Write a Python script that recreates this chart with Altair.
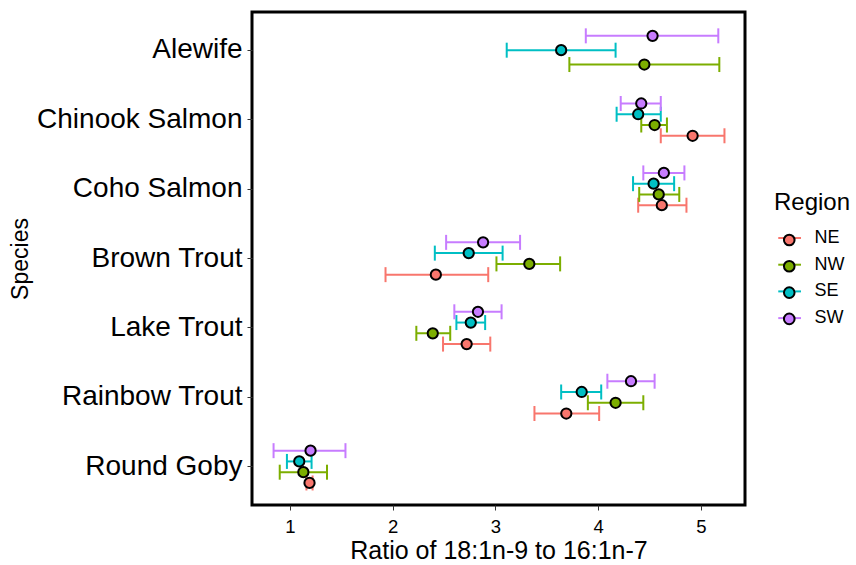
import altair as alt
import pandas as pd

# Species shown top to bottom, regions in legend order
species_order = ["Alewife", "Chinook Salmon", "Coho Salmon", "Brown Trout",
                 "Lake Trout", "Rainbow Trout", "Round Goby"]
regions = ["NE", "NW", "SE", "SW"]
region_colors = ["#F8766D", "#7CAE00", "#00BFC4", "#C77CFF"]

# Mean ratio of 18:1n-9 to 16:1n-7 with lower / upper error limits
species = ["Alewife", "Alewife", "Alewife",
           "Chinook Salmon", "Chinook Salmon", "Chinook Salmon", "Chinook Salmon",
           "Coho Salmon", "Coho Salmon", "Coho Salmon", "Coho Salmon",
           "Brown Trout", "Brown Trout", "Brown Trout", "Brown Trout",
           "Lake Trout", "Lake Trout", "Lake Trout", "Lake Trout",
           "Rainbow Trout", "Rainbow Trout", "Rainbow Trout", "Rainbow Trout",
           "Round Goby", "Round Goby", "Round Goby", "Round Goby"]
region = ["NW", "SE", "SW",
          "NE", "NW", "SE", "SW",
          "NE", "NW", "SE", "SW",
          "NE", "NW", "SE", "SW",
          "NE", "NW", "SE", "SW",
          "NE", "NW", "SE", "SW",
          "NE", "NW", "SE", "SW"]
ratio_mean = [4.45, 3.64, 4.53,
              4.92, 4.55, 4.39, 4.42,
              4.62, 4.59, 4.54, 4.64,
              2.42, 3.33, 2.74, 2.88,
              2.72, 2.39, 2.76, 2.83,
              3.69, 4.17, 3.84, 4.32,
              1.19, 1.13, 1.09, 1.20]
ratio_lo = [3.72, 3.11, 3.88,
            4.61, 4.42, 4.18, 4.22,
            4.39, 4.40, 4.34, 4.44,
            1.93, 3.01, 2.41, 2.52,
            2.49, 2.23, 2.62, 2.60,
            3.38, 3.90, 3.64, 4.09,
            1.16, 0.90, 0.97, 0.84]
ratio_hi = [5.18, 4.17, 5.17,
            5.23, 4.67, 4.61, 4.61,
            4.86, 4.79, 4.74, 4.84,
            2.93, 3.63, 3.07, 3.24,
            2.95, 2.56, 2.90, 3.06,
            4.01, 4.44, 4.03, 4.55,
            1.22, 1.36, 1.21, 1.54]

df = pd.DataFrame({"species": species, "region": region,
                   "mean": ratio_mean, "lo": ratio_lo, "hi": ratio_hi})

# Dodge the regions inside each species band (like position_dodge)
DODGE = 0.62
df["n"] = df.groupby("species")["region"].transform("count")
df["k"] = df.groupby("species")["region"].rank(method="first") - 1
df["dodge"] = ((df["n"] - 1) / 2 - df["k"]) * DODGE / df["n"]
# separate key for the point fill, so its legend stays apart from the line legend
df["region_pt"] = df["region"] + " "
regions_pt = [r + " " for r in regions]

FONT = "Liberation Sans"

y_enc = alt.Y("species:N", sort=species_order, title="Species",
              scale=alt.Scale(paddingInner=0, paddingOuter=0.05),
              axis=alt.Axis(labelFontSize=28, titleFontSize=23, titlePadding=20,
                            labelPadding=5, tickSize=5, domain=False, labelLimit=0,
                            tickColor="#333333", labelColor="#000000",
                            titleColor="#000000", titleFontWeight="normal"))
off_enc = alt.YOffset("dodge:Q", scale=alt.Scale(domain=[-0.5, 0.5]))
x_scale = alt.Scale(domain=[0.63, 5.43], nice=False, zero=False)
x_axis = alt.Axis(values=[1, 2, 3, 4, 5], format="d", labelFontSize=18.5,
                  titleFontSize=25, tickSize=5, domain=False, grid=False,
                  tickColor="#333333", labelColor="#000000", titleColor="#000000",
                  titleFontWeight="normal", labelPadding=7, titlePadding=2.5)

# Legend key: a coloured line with an outlined circle on top of it
KEY_LINE = "M-1,0H3.79"
KEY_DOT = "M2.44,0A1.12,1.12,0,1,1,0.2,0A1.12,1.12,0,1,1,2.44,0Z"

stroke_enc = alt.Stroke("region:N", title="Region",
                        scale=alt.Scale(domain=regions, range=region_colors),
                        legend=alt.Legend(orient="none", legendX=522, legendY=179,
                                          symbolType=KEY_LINE, symbolSize=90,
                                          symbolStrokeWidth=2, symbolOpacity=1,
                                          titleFontSize=24, labelFontSize=18,
                                          titleFontWeight="normal", titlePadding=14,
                                          rowPadding=8.7, labelOffset=22.5,
                                          labelColor="#000000", titleColor="#000000"))
fill_enc = alt.Fill("region_pt:N", title=None,
                    scale=alt.Scale(domain=regions_pt, range=region_colors),
                    legend=alt.Legend(orient="none", legendX=522, legendY=219,
                                      symbolType=KEY_DOT, symbolSize=90,
                                      symbolStrokeColor="black", symbolStrokeWidth=2,
                                      symbolOpacity=1, labelExpr="''",
                                      labelFontSize=18, rowPadding=6.3))

base = alt.Chart(df)

bars = base.mark_rule(strokeWidth=2).encode(
    x=alt.X("lo:Q", scale=x_scale, axis=x_axis, title="Ratio of 18:1n-9 to 16:1n-7"),
    x2="hi:Q", y=y_enc, yOffset=off_enc, stroke=stroke_enc)

cap_lo = base.mark_tick(size=13, thickness=0.01, orient="vertical", filled=False,
                        strokeWidth=2, opacity=1).encode(
    x=alt.X("lo:Q", scale=x_scale), y=y_enc, yOffset=off_enc, stroke=stroke_enc)
cap_hi = base.mark_tick(size=13, thickness=0.01, orient="vertical", filled=False,
                        strokeWidth=2, opacity=1).encode(
    x=alt.X("hi:Q", scale=x_scale), y=y_enc, yOffset=off_enc, stroke=stroke_enc)

points = base.mark_point(filled=True, size=105, strokeWidth=2, opacity=1,
                         stroke="black", strokeOpacity=1).encode(
    x=alt.X("mean:Q", scale=x_scale), y=y_enc, yOffset=off_enc, fill=fill_enc)

chart = alt.layer(bars, cap_lo, cap_hi, points).properties(
    width=493, height=493,
    padding={"left": 9, "top": 12, "right": 5, "bottom": 5},
).configure(font=FONT).configure_view(stroke="black", strokeWidth=3)

chart.save("out.html", embed_options={"renderer": "svg", "actions": False})
